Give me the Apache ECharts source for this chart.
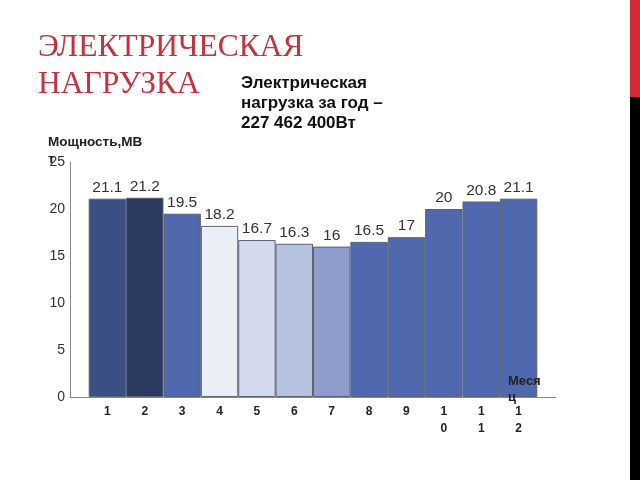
<!DOCTYPE html>
<html><head><meta charset="utf-8">
<script src="https://cdn.jsdelivr.net/npm/echarts@6/dist/echarts.min.js"></script>
<style>html,body{margin:0;padding:0;background:#fff}#c{width:640px;height:480px}</style>
</head><body><div id="c"></div>
<script>
const months = [1,2,3,4,5,6,7,8,9,10,11,12];
const monthLabels = ['1','2','3','4','5','6','7','8','9','1\n0','1\n1','1\n2'];
const loadMW = [21.1,21.2,19.5,18.2,16.7,16.3,16,16.5,17,20,20.8,21.1];
const barColors = ['#3a5083','#2b3a5f','#4f67ad','#eaeef7','#d4daed','#b7c2df','#8d9ccb','#4f68ae','#4f68ae','#4f68ae','#4f68ae','#4f68ae'];
const yTicks = [0,5,10,15,20,25];

const chart = echarts.init(document.getElementById('c'));
chart.setOption({
  animation:false,
  backgroundColor:'#fff',
  grid:{left:70,right:84,top:162,bottom:83},
  xAxis:{type:'value',min:0,max:13,interval:1,
    axisLine:{show:true,lineStyle:{color:'#8a8a8a',width:1}},
    axisTick:{show:false},splitLine:{show:false},
    axisLabel:{color:'#222',fontSize:12,fontWeight:'bold',fontFamily:'Liberation Sans, Arial',margin:6,lineHeight:17,verticalAlign:'top',
      formatter:v=>{const i=months.indexOf(v);return i>=0?monthLabels[i]:'';}}},
  yAxis:{type:'value',min:yTicks[0],max:yTicks[yTicks.length-1],interval:5,
    axisLine:{show:true,lineStyle:{color:'#8a8a8a',width:1}},
    axisTick:{show:false},splitLine:{show:false},
    axisLabel:{color:'#333',fontSize:14,fontFamily:'Liberation Sans, Arial',margin:5}},
  series:[{type:'bar',barWidth:37.4,
    data:months.map((m,i)=>[m,loadMW[i]]),
    itemStyle:{color:p=>barColors[p.dataIndex],borderColor:'#5c6273',borderWidth:1},
    label:{show:true,position:'top',distance:3,color:'#333',fontSize:15.5,fontFamily:'Liberation Sans, Arial',
      formatter:p=>String(p.value[1])}}],
  graphic:[
    {type:'text',z:100,left:38,top:29,style:{text:'ЭЛЕКТРИЧЕСКАЯ\nНАГРУЗКА',font:'31.5px "Liberation Serif", serif',fill:'#c0343d',lineHeight:37}},
    {type:'text',z:100,left:241,top:73,style:{text:'Электрическая\nнагрузка за год –\n227 462 400Вт',font:'bold 17px "Liberation Sans", Arial',fill:'#111',lineHeight:20}},
    {type:'text',z:100,left:48,top:134,style:{text:'Мощность,МВ\nт',font:'bold 13.5px "Liberation Sans", Arial',fill:'#222',lineHeight:17}},
    {type:'text',z:100,left:508,top:373,style:{text:'Меся\nц',font:'bold 13px "Liberation Sans", Arial',fill:'#222',lineHeight:16}},
    {type:'rect',z:100,shape:{x:630,y:0,width:10,height:97},style:{fill:'#d42a33'}},
    {type:'rect',z:100,shape:{x:630,y:97,width:10,height:383},style:{fill:'#000'}}
  ]
});
</script></body></html>
